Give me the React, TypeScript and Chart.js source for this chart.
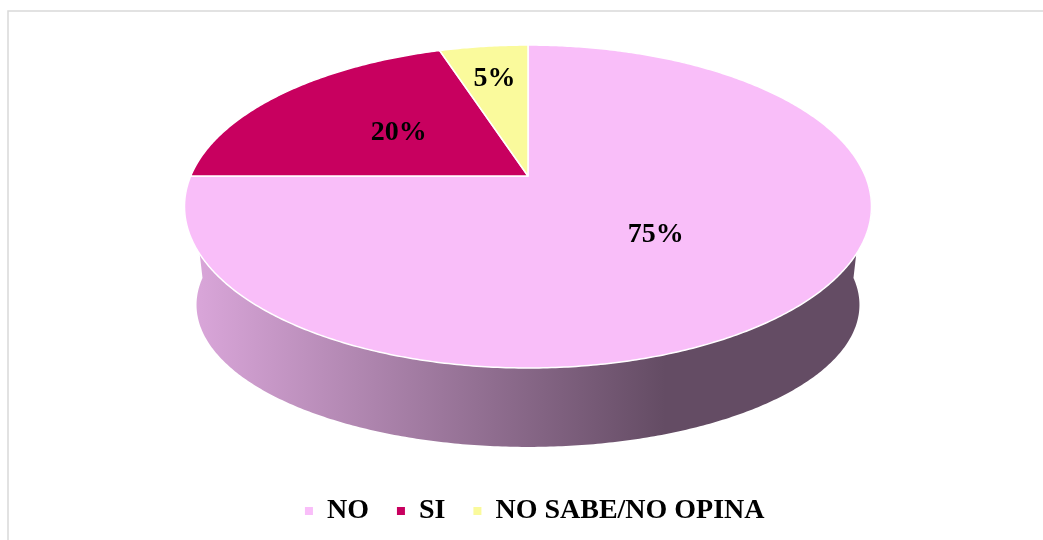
import React, { useEffect, useRef } from 'react';
import { Chart, registerables } from 'chart.js';

Chart.register(...registerables);

const categories: string[] = ['NO', 'SI', 'NO SABE/NO OPINA'];
const values: number[] = [75, 20, 5];
const sliceColors: string[] = ['#F9BEF9', '#C8005F', '#FAFA9C'];

const FONT = "'Liberation Serif', 'Times New Roman', serif";

// 3D look (relative to the outer radius Chart.js computes)
const VIEW = {
  ax: 1.5024,
  by: 0.6935,
  persp: 0.189,
  shiftX: -0.0301,
  shiftY: -0.3051,
  depth: 0.4543,
  bottomScaleX: 0.965,
  bottomScaleY: 0.88,
};

function shade(hex: string, f: number): string {
  const n = parseInt(hex.slice(1), 16);
  const r = Math.round(((n >> 16) & 255) * f);
  const g = Math.round(((n >> 8) & 255) * f);
  const b = Math.round((n & 255) * f);
  return `rgb(${r},${g},${b})`;
}

const pie3d = {
  id: 'pie3d',
  beforeDraw(chart: any) {
    const ctx = chart.ctx;
    ctx.save();
    ctx.strokeStyle = '#d9d9d9';
    ctx.lineWidth = 1.5;
    ctx.strokeRect(8, 11, 1200, 700);
    ctx.restore();
  },
  beforeDatasetsDraw(chart: any) {
    const meta = chart.getDatasetMeta(0);
    const arcs = meta.data;
    if (!arcs || !arcs.length) return false;
    const ctx = chart.ctx;
    const first = arcs[0].getProps(['x', 'y', 'outerRadius'], true);
    const R = first.outerRadius;
    const X0 = first.x + VIEW.shiftX * R;
    const Y0 = first.y + VIEW.shiftY * R;
    const A = VIEW.ax * R;
    const B = VIEW.by * R;
    const p = VIEW.persp;
    const Y0b = Y0 + VIEW.depth * R;
    const Ab = A * VIEW.bottomScaleX;
    const Bb = B * VIEW.bottomScaleY;

    const proj = (ang: number, r: number, bottom: boolean) => {
      const u = r * Math.cos(ang);
      const v = -r * Math.sin(ang);
      const d = 1 + p * v;
      if (bottom) return [X0 + (Ab * u) / d, Y0b - (Bb * v) / d];
      return [X0 + (A * u) / d, Y0 - (B * v) / d];
    };

    const samples = (s: number, e: number) => {
      const n = Math.max(8, Math.ceil((e - s) / 0.01));
      const out: number[] = [];
      for (let i = 0; i <= n; i++) out.push(s + ((e - s) * i) / n);
      return out;
    };

    const ds = chart.data.datasets[0];
    const total = ds.data.reduce((a: number, b: number) => a + b, 0);

    ctx.save();
    // sides (only the front half, angle 0..PI, faces the viewer)
    arcs.forEach((arc: any, i: number) => {
      const { startAngle, endAngle } = arc.getProps(['startAngle', 'endAngle'], true);
      const s = Math.max(startAngle, 0);
      const e = Math.min(endAngle, Math.PI);
      if (e <= s) return;
      const col = ds.backgroundColor[i];
      const left = X0 - 1.0184 * A;
      const right = X0 + 1.0184 * A;
      const grad = ctx.createLinearGradient(left, 0, right, 0);
      grad.addColorStop(0, shade(col, 0.885));
      grad.addColorStop(0.7, shade(col, 0.4));
      grad.addColorStop(1, shade(col, 0.4));
      const angs = samples(s, e);
      ctx.beginPath();
      angs.forEach((a, k) => {
        const [px, py] = proj(a, 1, false);
        if (k === 0) ctx.moveTo(px, py);
        else ctx.lineTo(px, py);
      });
      for (let k = angs.length - 1; k >= 0; k--) {
        const [px, py] = proj(angs[k], 1, true);
        ctx.lineTo(px, py);
      }
      ctx.closePath();
      ctx.fillStyle = grad;
      ctx.fill();
    });

    // top faces
    arcs.forEach((arc: any, i: number) => {
      const { startAngle, endAngle } = arc.getProps(['startAngle', 'endAngle'], true);
      const angs = samples(startAngle, endAngle);
      ctx.beginPath();
      ctx.moveTo(X0, Y0);
      angs.forEach((a) => {
        const [px, py] = proj(a, 1, false);
        ctx.lineTo(px, py);
      });
      ctx.closePath();
      ctx.fillStyle = ds.backgroundColor[i];
      ctx.fill();
      ctx.strokeStyle = '#ffffff';
      ctx.lineWidth = 1.5;
      ctx.lineJoin = 'round';
      ctx.stroke();
    });

    // labels
    ctx.fillStyle = '#000';
    ctx.font = `bold 28px ${FONT}`;
    ctx.textAlign = 'center';
    ctx.textBaseline = 'middle';
    arcs.forEach((arc: any, i: number) => {
      const { startAngle, endAngle } = arc.getProps(['startAngle', 'endAngle'], true);
      const frac = ds.data[i] / total;
      const mid = (startAngle + endAngle) / 2;
      const r = frac < 0.1 ? 0.72 : 0.5;
      const [lx, ly] = proj(mid, r, false);
      ctx.fillText(`${Math.round(frac * 100)}%`, lx, ly);
    });
    ctx.restore();
    return false;
  },
};

export default function App() {
  const ref = useRef<HTMLCanvasElement | null>(null);
  useEffect(() => {
    if (!ref.current) return;
    const chart = new Chart(ref.current, {
      type: 'pie',
      data: {
        labels: categories,
        datasets: [
          {
            data: values,
            backgroundColor: sliceColors,
            borderWidth: 0,
          },
        ],
      },
      options: {
        responsive: false,
        animation: false,
        layout: { padding: { left: 26.5, right: 0, top: 20, bottom: 5 } },
        plugins: {
          tooltip: { enabled: false },
          legend: {
            position: 'bottom',
            labels: {
              boxWidth: 8,
              boxHeight: 8,
              padding: 28,
              color: '#000',
              font: { family: FONT, size: 28, weight: 'bold' },
            },
          },
        },
      },
      plugins: [pie3d],
    } as any);
    return () => chart.destroy();
  }, []);
  return (
    <div style={{ position: 'fixed', left: 0, top: 0, width: 1043, height: 540, background: '#fff' }}>
      <canvas ref={ref} width={1043} height={540} style={{ width: 1043, height: 540, display: 'block' }} />
    </div>
  );
}
